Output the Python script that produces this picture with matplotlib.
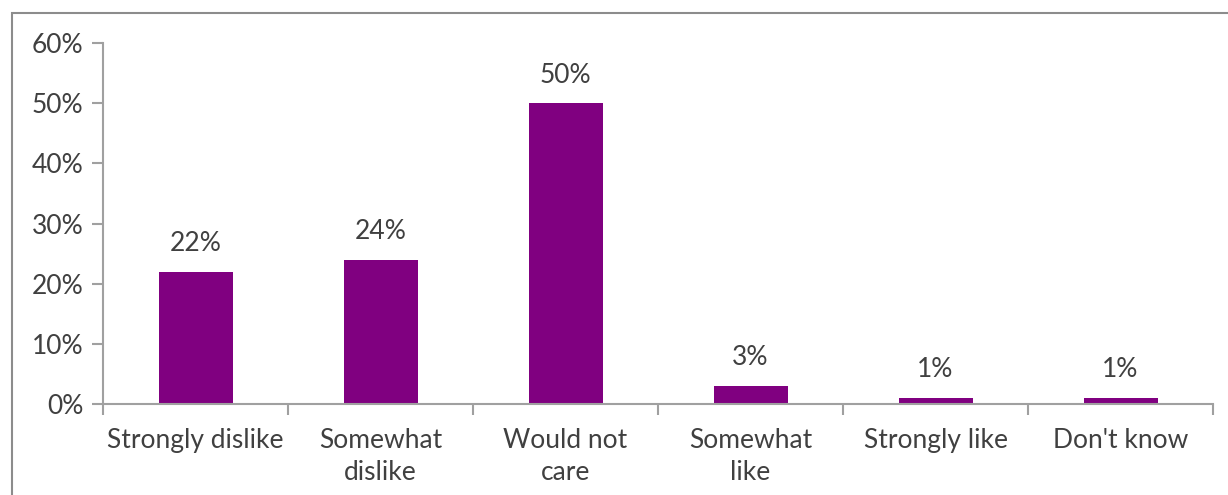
import matplotlib.pyplot as plt
import numpy as np
from matplotlib.patches import Rectangle

categories = ['Strongly dislike', 'Somewhat\ndislike', 'Would not\ncare',
              'Somewhat\nlike', 'Strongly like', "Don't know"]
values = [22, 24, 50, 3, 1, 1]
y_ticks = [0, 10, 20, 30, 40, 50, 60]

plt.rcParams['font.family'] = ['Lato', 'DejaVu Sans']
text_col = '#404040'
axis_col = '#a0a0a0'

fig = plt.figure(figsize=(12.28, 4.95), dpi=100)
ax = fig.add_axes([103 / 1228, 1 - 404 / 495, (1213 - 103) / 1228, (404 - 43) / 495])

# cadre gris autour du graphique
fig.patches.append(Rectangle((12 / 1228, -0.1), 1.2, 1 - 13 / 495 + 0.1,
                             transform=fig.transFigure, fill=False,
                             edgecolor='#8c8c8c', linewidth=1.5))

x = np.arange(len(categories))
ax.bar(x, values, width=0.4, color='#800080')
for xi, v in zip(x, values):
    ax.text(xi, v + 2.6, f'{v}%', ha='center', va='bottom', fontsize=19, color=text_col)

ax.set_xlim(-0.5, len(categories) - 0.5)
ax.set_ylim(0, 60)
ax.set_yticks(y_ticks)
ax.set_yticklabels([f'{t}%' for t in y_ticks], fontsize=19, color=text_col)

ax.set_xticks(x)
ax.set_xticklabels(categories, fontsize=19, color=text_col, linespacing=1.35)
ax.tick_params(axis='x', length=0, pad=17)
ax.set_xticks(np.arange(len(categories) + 1) - 0.5, minor=True)
ax.tick_params(axis='x', which='minor', length=8, color=axis_col, width=1.5)
ax.tick_params(axis='y', length=8, color=axis_col, width=1.5, pad=6)

for s in ['top', 'right']:
    ax.spines[s].set_visible(False)
for s in ['left', 'bottom']:
    ax.spines[s].set_color(axis_col)
    ax.spines[s].set_linewidth(1.5)

fig.savefig('out.png', dpi=100)
